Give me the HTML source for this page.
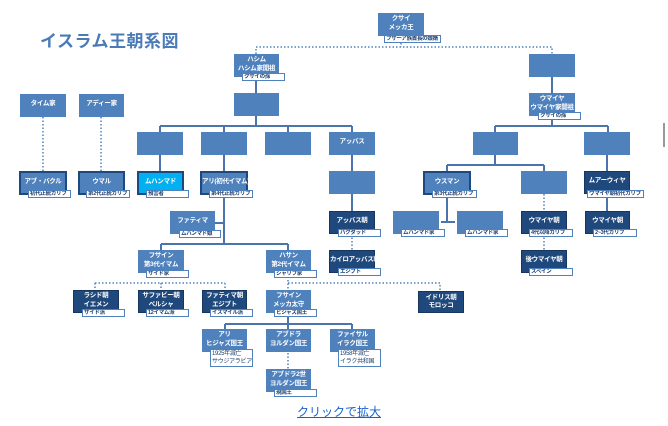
<!DOCTYPE html>
<html><head><meta charset="utf-8"><style>
body{margin:0;width:668px;height:426px;background:#fff;position:relative;overflow:hidden;font-family:"Liberation Sans","Noto Sans CJK JP",sans-serif}
.b,.d,.c,.m{position:absolute;background:#4f81bd;color:#fff;font-size:6.5px;font-weight:bold;text-align:center;line-height:8.5px;display:flex;flex-direction:column;justify-content:center;box-sizing:border-box;white-space:nowrap;letter-spacing:-0.3px;padding-bottom:2px}
.d{background:#1f497d;border:1px solid #17365d}
.m{background:#4f81bd;border:2px solid #1f497d}
.c{background:#00b0f0;border:2px solid #1f497d}
.s{position:absolute;background:#fff;border:1px solid #4f81bd;color:#1f3f6f;font-size:5.5px;line-height:6px;height:8px;box-sizing:border-box;padding-left:1px;white-space:nowrap;overflow:hidden;font-weight:bold;letter-spacing:-0.3px}
.n{position:absolute;background:#fff;border:1px solid #4f81bd;color:#1f3f6f;font-size:6px;line-height:8px;box-sizing:border-box;padding-left:1px;white-space:nowrap;letter-spacing:-0.3px}
svg{position:absolute;left:0;top:0}
</style></head><body>
<svg width="668" height="426">
<g stroke="#4a74ab" stroke-width="2" fill="none">
<path d="M256 77V93M256 116V126M160 126H352M160 126V132M224 126V132M288 126V132M352 126V132"/>
<path d="M160 155V171M224 155V171M352 155V171M352 194V211"/>
<path d="M224 196V244M215 223H224M161 244H288M161 244V250M288 244V250"/>
<path d="M288 313V324M225 324H352M225 324V329M288 324V329M352 324V329"/>
<path d="M552 77V93M552 116V126M495 126H608M495 126V132M608 126V132"/>
<path d="M495 155V165M447 165H544M447 165V171M544 165V171"/>
<path d="M447 195V222M441 222H455M607 155V171M607 194V211"/>
</g>
<g stroke="#4f81bd" stroke-width="1.5" fill="none" stroke-dasharray="1.5,2">
<path d="M256 54V47H552V54M401 36V47"/>
<path d="M43 117V171M101 117V171"/>
<path d="M352 234V250M544 194V211M544 234V250"/>
<path d="M288 273V290M288 283H440V291M95 283H225M95 283V290M161 283V290M225 283V290"/>
<path d="M288 353V369"/>
</g>
<rect x="663" y="123" width="2" height="24" fill="#999"/>
</svg>
<div style="position:absolute;left:40px;top:27px;font-size:17px;font-weight:bold;color:#4a7bb7;letter-spacing:0.5px">イスラム王朝系図</div>

<div class="b" style="left:378px;top:13px;width:46px;height:23px">クサイ<br>メッカ王</div>
<div class="s" style="left:384px;top:35px;width:57px">フザーア族首長の娘婿</div>

<div class="b" style="left:234px;top:54px;width:45px;height:23px">ハシム<br>ハシム家開祖</div>
<div class="s" style="left:242px;top:73px;width:43px">クサイの孫</div>
<div class="b" style="left:234px;top:93px;width:45px;height:23px"></div>

<div class="b" style="left:137px;top:132px;width:46px;height:23px"></div>
<div class="b" style="left:201px;top:132px;width:46px;height:23px"></div>
<div class="b" style="left:265px;top:132px;width:46px;height:23px"></div>
<div class="b" style="left:329px;top:132px;width:46px;height:23px">アッバス</div>

<div class="b" style="left:20px;top:94px;width:46px;height:23px">タイム家</div>
<div class="b" style="left:79px;top:94px;width:45px;height:23px">アディー家</div>

<div class="m" style="left:19px;top:171px;width:48px;height:24px">アブ・バクル</div>
<div class="s" style="left:28px;top:190px;width:43px">初代正統カリフ</div>
<div class="m" style="left:78px;top:171px;width:47px;height:24px">ウマル</div>
<div class="s" style="left:86px;top:190px;width:44px">第2代正統カリフ</div>
<div class="c" style="left:137px;top:171px;width:47px;height:24px">ムハンマド</div>
<div class="s" style="left:146px;top:190px;width:43px">預言者</div>
<div class="m" style="left:200px;top:171px;width:48px;height:24px">アリ(初代イマム)</div>
<div class="s" style="left:209px;top:190px;width:44px">第4代正統カリフ</div>

<div class="b" style="left:329px;top:171px;width:46px;height:23px"></div>
<div class="d" style="left:329px;top:211px;width:46px;height:23px">アッバス朝</div>
<div class="s" style="left:338px;top:229px;width:43px">バグダッド</div>
<div class="d" style="left:329px;top:250px;width:46px;height:23px">カイロアッバス朝</div>
<div class="s" style="left:338px;top:268px;width:43px">エジプト</div>

<div class="b" style="left:529px;top:54px;width:46px;height:23px"></div>
<div class="b" style="left:529px;top:93px;width:46px;height:23px">ウマイヤ<br>ウマイヤ家開祖</div>
<div class="s" style="left:538px;top:112px;width:43px">クサイの孫</div>
<div class="b" style="left:473px;top:132px;width:45px;height:23px"></div>
<div class="b" style="left:584px;top:132px;width:46px;height:23px"></div>

<div class="m" style="left:423px;top:171px;width:48px;height:24px">ウスマン</div>
<div class="s" style="left:432px;top:190px;width:45px">第3代正統カリフ</div>
<div class="b" style="left:521px;top:171px;width:46px;height:23px"></div>
<div class="d" style="left:584px;top:171px;width:46px;height:23px">ムアーウィヤ</div>
<div class="s" style="left:587px;top:190px;width:57px">ウマイヤ朝初代カリフ</div>

<div class="b" style="left:393px;top:211px;width:46px;height:23px"></div>
<div class="s" style="left:401px;top:229px;width:44px">ムハンマド家</div>
<div class="b" style="left:457px;top:211px;width:46px;height:23px"></div>
<div class="s" style="left:465px;top:229px;width:43px">ムハンマド家</div>
<div class="d" style="left:521px;top:211px;width:46px;height:23px">ウマイヤ朝</div>
<div class="s" style="left:529px;top:229px;width:44px">4代以降カリフ</div>
<div class="d" style="left:521px;top:250px;width:46px;height:23px">後ウマイヤ朝</div>
<div class="s" style="left:529px;top:268px;width:44px">スペイン</div>
<div class="d" style="left:585px;top:211px;width:45px;height:23px">ウマイヤ朝</div>
<div class="s" style="left:593px;top:229px;width:44px">2~3代カリフ</div>

<div class="b" style="left:170px;top:211px;width:45px;height:23px">ファティマ</div>
<div class="s" style="left:179px;top:230px;width:42px">ムハンマド娘</div>

<div class="b" style="left:138px;top:250px;width:46px;height:23px">フサイン<br>第3代イマム</div>
<div class="s" style="left:146px;top:270px;width:43px">サイド家</div>
<div class="b" style="left:266px;top:250px;width:45px;height:23px">ハサン<br>第2代イマム</div>
<div class="s" style="left:274px;top:270px;width:43px">シャリフ家</div>

<div class="d" style="left:73px;top:290px;width:46px;height:23px">ラシド朝<br>イエメン</div>
<div class="s" style="left:82px;top:309px;width:43px">ザイド派</div>
<div class="d" style="left:138px;top:290px;width:46px;height:23px">サファビー朝<br>ペルシャ</div>
<div class="s" style="left:146px;top:309px;width:43px">12イマム派</div>
<div class="d" style="left:202px;top:290px;width:45px;height:23px">ファティマ朝<br>エジプト</div>
<div class="s" style="left:210px;top:309px;width:43px">イスマイル派</div>
<div class="b" style="left:266px;top:290px;width:45px;height:23px">フサイン<br>メッカ太守</div>
<div class="s" style="left:274px;top:309px;width:43px">ヒジャズ国王</div>
<div class="d" style="left:418px;top:291px;width:46px;height:22px;padding-bottom:0">イドリス朝<br>モロッコ</div>

<div class="b" style="left:202px;top:329px;width:45px;height:23px">アリ<br>ヒジャズ国王</div>
<div class="n" style="left:210px;top:349px;width:43px;height:18px">1925年滅亡<br>サウジアラビア</div>
<div class="b" style="left:266px;top:329px;width:45px;height:23px">アブドラ<br>ヨルダン国王</div>
<div class="b" style="left:330px;top:329px;width:45px;height:23px">ファイサル<br>イラク国王</div>
<div class="n" style="left:338px;top:349px;width:43px;height:18px">1958年滅亡<br>イラク共和国</div>
<div class="b" style="left:266px;top:369px;width:45px;height:23px">アブドラ2世<br>ヨルダン国王</div>
<div class="s" style="left:274px;top:389px;width:43px">現国王</div>

<div style="position:absolute;left:297px;top:403px;font-size:12px;color:#1a5fd0;text-decoration:underline">クリックで拡大</div>
</body></html>
